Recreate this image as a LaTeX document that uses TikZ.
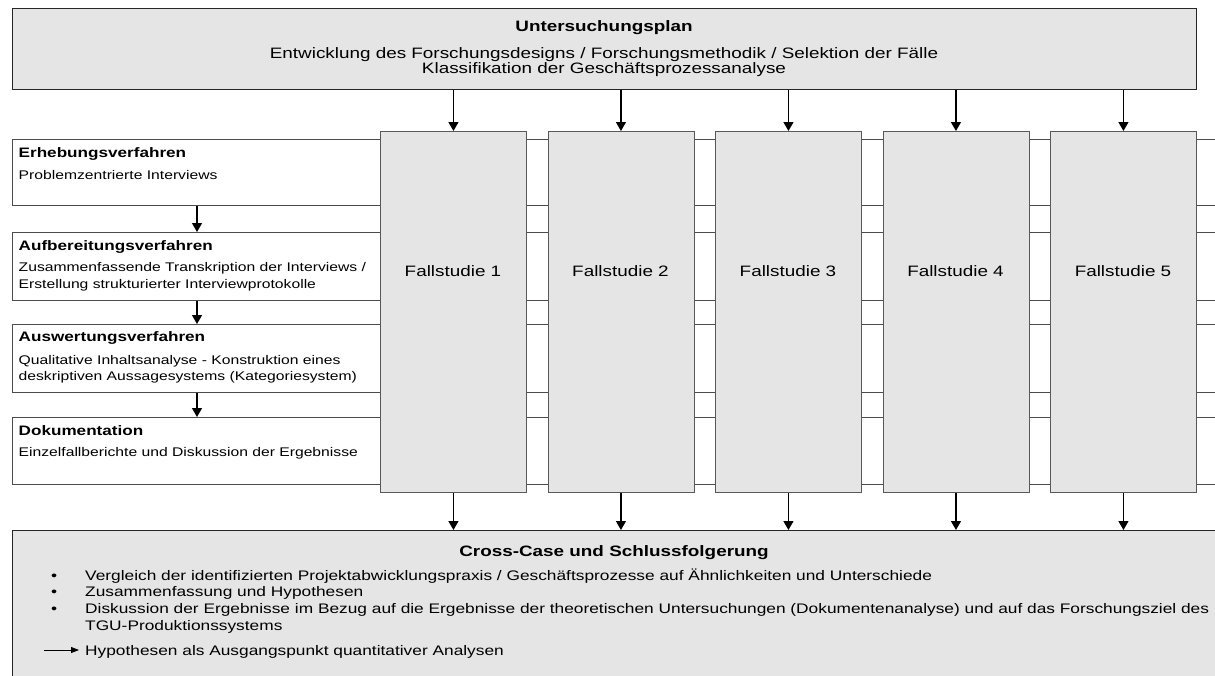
\documentclass[tikz,border=0pt]{standalone}
\usepackage{fontspec}
\setmainfont{Liberation Sans}[FakeStretch=1.25]
\usetikzlibrary{arrows.meta}
\definecolor{boxgray}{HTML}{E5E5E5}
\begin{document}
\begin{tikzpicture}[x=1pt,y=-1pt,
  gbox/.style={draw=black!85, fill=boxgray, line width=0.9pt, inner sep=0pt, anchor=north west},
  rowbox/.style={draw=black!70, fill=white, line width=0.8pt, inner sep=0pt, anchor=north west},
  colbox/.style={draw=black!65, fill=boxgray, line width=0.9pt, inner sep=0pt, anchor=north west},
  arr/.style={-{Triangle[width=10pt,length=9pt]}, line width=1.2pt, black},
  txt/.style={inner sep=0pt, anchor=base west},
  ctxt/.style={inner sep=0pt, anchor=base},
  ttl/.style={font=\bfseries\fontsize{15.1}{17}\selectfont},
  tbody/.style={font=\fontsize{15.1}{17}\selectfont},
  lttl/.style={font=\bfseries\fontsize{13.7}{15}\selectfont},
  lbody/.style={font=\fontsize{12.55}{15}\selectfont},
  fs/.style={font=\fontsize{15.1}{18}\selectfont},
  btext/.style={font=\fontsize{13.85}{16}\selectfont}
]
\useasboundingbox (0,0) rectangle (1215,675);
\clip (0,0) rectangle (1215,675);

% top box
\node[gbox, minimum width=1184pt, minimum height=81pt] (top) at (12,8) {};
\node[ctxt, ttl] (toptitle) at (604,31) {Untersuchungsplan};
\node[ctxt, tbody] (topl1) at (604,58.3) {Entwicklung des Forschungsdesigns / Forschungsmethodik / Selektion der Fälle};
\node[ctxt, tbody] (topl2) at (604,73.3) {Klassifikation der Geschäftsprozessanalyse};

% rows
\node[rowbox, minimum width=1220pt, minimum height=66pt] (r1) at (12,139) {};
\node[rowbox, minimum width=1220pt, minimum height=68pt] (r2) at (12,232) {};
\node[rowbox, minimum width=1220pt, minimum height=68pt] (r3) at (12,324) {};
\node[rowbox, minimum width=1220pt, minimum height=67pt] (r4) at (12,417) {};

\node[txt, lttl] (r1t) at (18.5,157) {Erhebungsverfahren};
\node[txt, lbody] (r1b) at (18.5,179) {Problemzentrierte Interviews};
\node[txt, lttl] (r2t) at (18.5,250) {Aufbereitungsverfahren};
\node[txt, lbody] (r2b) at (18.5,271.7) {Zusammenfassende Transkription der Interviews /};
\node[txt, lbody] (r2c) at (18.5,288) {Erstellung strukturierter Interviewprotokolle};
\node[txt, lttl] (r3t) at (18.5,341.7) {Auswertungsverfahren};
\node[txt, lbody] (r3b) at (18.5,364) {Qualitative Inhaltsanalyse - Konstruktion eines};
\node[txt, lbody] (r3c) at (18.5,380) {deskriptiven Aussagesystems (Kategoriesystem)};
\node[txt, lttl] (r4t) at (18.5,435) {Dokumentation};
\node[txt, lbody] (r4b) at (18.5,456.7) {Einzelfallberichte und Diskussion der Ergebnisse};

\coordinate (lx) at (197,0);
\draw[arr] (r1.south -| lx) -- (r2.north -| lx);
\draw[arr] (r2.south -| lx) -- (r3.north -| lx);
\draw[arr] (r3.south -| lx) -- (r4.north -| lx);

% columns
\foreach \i/\x in {1/380,2/547.5,3/715,4/882.5,5/1050}{
  \node[colbox, minimum width=146pt, minimum height=361pt] (c\i) at (\x,131) {};
  \node[ctxt, fs] (c\i l) at (\x+73,276) {Fallstudie \i};
}

% bottom box
\node[gbox, minimum width=1220pt, minimum height=170pt] (bot) at (12,530) {};
\node[ctxt, ttl] (bottitle) at (614,556) {Cross-Case und Schlussfolgerung};
\node[txt, btext] (b1d) at (51,580) {•};
\node[txt, btext] (b1) at (85,580) {Vergleich der identifizierten Projektabwicklungspraxis / Geschäftsprozesse auf Ähnlichkeiten und Unterschiede};
\node[txt, btext] (b2d) at (51,596.7) {•};
\node[txt, btext] (b2) at (85,596.7) {Zusammenfassung und Hypothesen};
\node[txt, btext] (b3d) at (51,613) {•};
\node[txt, btext] (b3) at (85,613) {Diskussion der Ergebnisse im Bezug auf die Ergebnisse der theoretischen Untersuchungen (Dokumentenanalyse) und auf das Forschungsziel des};
\node[txt, btext] (b4) at (85,630) {TGU-Produktionssystems};
\coordinate (ha) at (44,650);
\node[txt, btext] (b5) at (85,655) {Hypothesen als Ausgangspunkt quantitativer Analysen};
\draw[-{Triangle[width=6pt,length=8pt]}, line width=0.8pt] (ha) -- ([xshift=-6pt]b5.base west |- ha);

\foreach \i in {1,...,5}{
  \draw[arr] (top.south -| c\i.north) -- (c\i.north);
  \draw[arr] (c\i.south) -- (c\i.south |- bot.north);
}
\end{tikzpicture}
\end{document}
